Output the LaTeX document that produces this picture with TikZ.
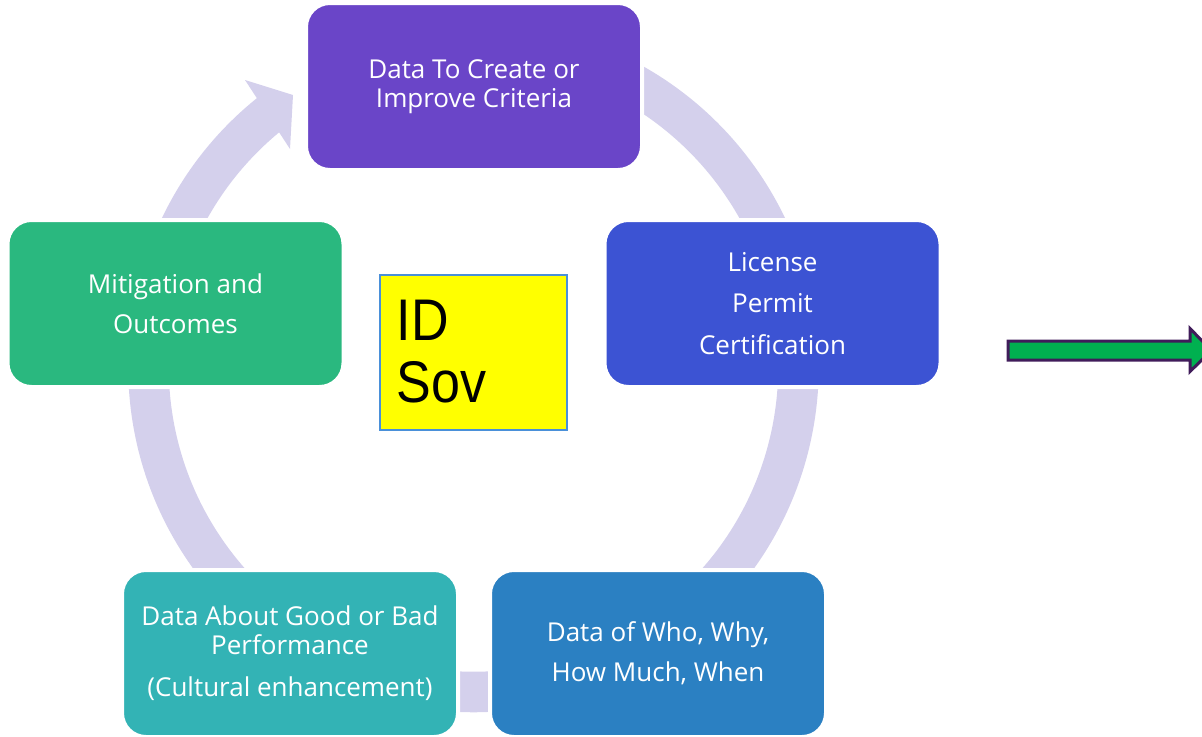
\documentclass[tikz,border=0pt]{standalone}
\usepackage{graphicx}
\usepackage{fontspec}
\setmainfont{Open Sans}
\newfontfamily\sovfont{Liberation Sans}
\definecolor{critpurple}{RGB}{106,69,200}
\definecolor{licblue}{RGB}{60,83,211}
\definecolor{whoblue}{RGB}{43,128,194}
\definecolor{perfteal}{RGB}{51,179,181}
\definecolor{mitgreen}{RGB}{42,184,127}
\definecolor{ringlilac}{RGB}{212,208,236}
\definecolor{idyellow}{RGB}{255,255,0}
\definecolor{idedge}{RGB}{74,144,217}
\definecolor{nextgreen}{RGB}{0,176,80}
\definecolor{nextedge}{RGB}{64,28,90}

\begin{document}
\begin{tikzpicture}[x = 0.75pt, y = 0.75pt,
		stage/.style = {draw = white, line width = 3pt, rounded corners = 18pt,
			minimum width = 252pt, minimum height = 125.25pt, inner sep = 0pt,
			text = white, align = center, font = \fontsize{19.5}{21.75}\selectfont},
		idsov/.style = {anchor = base west, inner sep = 0pt,
			font = \sovfont\fontsize{39}{41}\selectfont}]
	\useasboundingbox (0, 0) rectangle (1202, -736) ;
	\clip (0, 0) rectangle (1202, -736) ;
	% ring of the cycle, behind the stages
	\draw [ringlilac, line width = 30.4pt] (473.5, -367) ++(128.5:325)
		arc [start angle = 128.5, end angle = 440, radius = 325] ;
	\fill [ringlilac] (245, -80) -- (293, -95) -- (290, -149) -- cycle ;
	% the five stages
	\node [stage, fill = critpurple] (criteria) at (474, -86.5)
		{Data To Create or\\Improve Criteria} ;
	\node [stage, fill = licblue] (license) at (772.5, -303.5)
		{License\\[9.4pt]Permit\\[9.4pt]Certification} ;
	\node [stage, fill = whoblue] (who) at (658, -653.5)
		{Data of Who, Why,\\[8.3pt]How Much, When} ;
	\node [stage, fill = perfteal] (perf) at (290, -653.5)
		{Data About Good or Bad\\Performance\\[9.75pt](Cultural enhancement)} ;
	\node [stage, fill = mitgreen] (mitig) at (175.5, -303.5)
		{Mitigation and\\[8.3pt]Outcomes} ;
	% centre box
	\node [draw = idedge, fill = idyellow, line width = 1.2pt, minimum width = 140.25pt,
		minimum height = 116.25pt, inner sep = 0pt] (idbox) at (473.5, -352.5) {} ;
	\node [idsov] (idline) at (396.5, -340) {\scalebox{1}[1.13]{ID}} ;
	\node [idsov] (sovline) at (396.5, -402) {\scalebox{1}[1.13]{Sov}} ;
	% arrow on the right
	\draw [fill = nextgreen, draw = nextedge, line width = 2.25pt]
		(1008, -341) -- (1190, -341) -- (1190, -328.5) -- (1211.5, -350.5)
		-- (1190, -371.5) -- (1190, -360) -- (1008, -360) -- cycle ;
\end{tikzpicture}
\end{document}
